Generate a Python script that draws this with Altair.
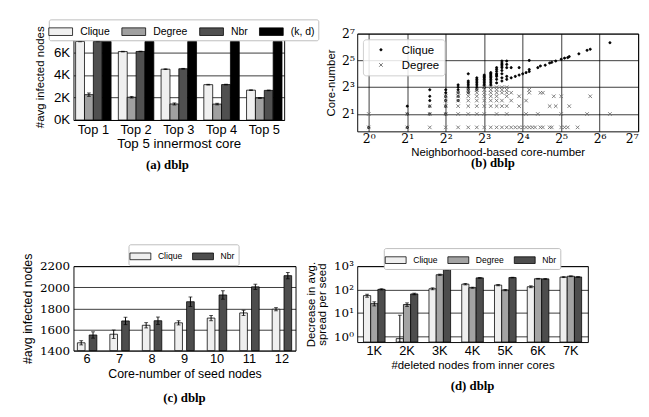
import altair as alt
import pandas as pd

SANS = "Liberation Sans"
SERIF = "DejaVu Serif"
CAPF = "Liberation Serif"
RECT = "M-1.4,-0.45H1.4V0.45H-1.4Z"
XMARK = "M-1,-1L1,1M-1,1L1,-1"

# ---------------- (a) ----------------
a_groups = ["Top 1", "Top 2", "Top 3", "Top 4", "Top 5"]
a_series = ["Clique", "Degree", "Nbr", "(k, d)"]
a_colors = ["#f0f0f0", "#a0a0a0", "#505050", "#000000"]
a_clique = [7000, 6100, 4530, 3150, 2660]
a_degree = [2260, 2030, 1430, 1420, 1960]
a_nbr = [7000, 6110, 4570, 3160, 2640]
a_kd = [7000, 7000, 7000, 7000, 7000]
a_err_clique = [25, 25, 30, 30, 30]
a_err_degree = [150, 70, 90, 70, 40]
a_err_nbr = [25, 25, 30, 30, 30]
a_err_kd = [0, 0, 0, 0, 0]

# ---------------- (b) ----------------
b_methods = ["Clique", "Degree"]
b_clique_x = [1, 2, 2, 2, 3, 3, 3, 3, 3, 4, 4, 4, 4, 4, 4, 5, 5, 5, 5, 5, 5,
              6, 6, 6, 6, 6, 6, 6, 7, 7, 7, 7, 7, 7, 7, 8, 8, 8, 8, 8, 8, 8, 8,
              9, 9, 9, 9, 9, 9, 9, 9, 9, 10, 10, 10, 10, 10, 10, 10, 10,
              11, 11, 11, 11, 11, 11, 11, 11, 11, 12, 12, 12, 12, 12, 13, 13,
              14, 15, 15, 16, 17, 18, 18, 18, 21, 22, 24, 26, 27, 29, 32, 34,
              36, 37, 44, 51, 54, 77]
b_clique_y = [1, 1, 2, 3, 2, 3, 4, 5, 7, 2, 3, 4, 5, 6, 7, 4, 5, 6, 7, 8, 9,
              6, 7, 8, 9, 10, 11, 16, 7, 8, 9, 10, 11, 12, 13, 8, 9, 10, 11, 12, 13, 14, 15,
              9, 10, 11, 12, 13, 14, 15, 16, 17, 10, 12, 14, 15, 16, 18, 20, 22,
              11, 13, 16, 19, 22, 24, 26, 28, 31, 12, 14, 22, 26, 31, 13, 22,
              14, 15, 22, 16, 17, 18, 20, 32, 22, 24, 25, 28, 29, 31, 34, 36,
              37, 39, 45, 54, 57, 80]
b_degree_x = [1, 2, 3, 4, 5, 6, 7, 8, 9, 10, 11, 12, 13, 14, 15, 16, 17, 18, 19, 20, 22, 23, 26, 27, 32, 34, 36, 43,
              1, 2, 3, 4, 5, 6, 7, 8, 10, 12, 17, 21, 32, 51, 77,
              3, 4, 5, 6, 7, 8, 9, 10, 11, 12, 15, 26, 29, 37,
              4, 5, 6, 7, 8, 9, 10, 11, 13, 17,
              4, 5, 6, 7, 8, 9, 10, 12, 15, 28, 32, 54,
              5, 6, 7, 8, 9, 10, 11, 12, 13, 18, 22, 23,
              6, 7, 8, 9, 10, 11, 12, 18,
              8, 9, 10, 11, 12]
b_degree_y = [1] * 28 + [2] * 15 + [3] * 14 + [4] * 10 + [5] * 12 + [6] * 12 + [7] * 8 + [8] * 5

# ---------------- (c) ----------------
c_cores = [6, 7, 8, 9, 10, 11, 12]
c_series = ["Clique", "Nbr"]
c_colors = ["#efefef", "#4d4d4d"]
c_clique = [1474, 1555, 1640, 1663, 1708, 1757, 1792]
c_nbr = [1548, 1681, 1683, 1863, 1927, 2004, 2110]
c_err_clique = [20, 40, 25, 20, 25, 25, 15]
c_err_nbr = [30, 35, 35, 45, 40, 25, 30]

# ---------------- (d) ----------------
d_groups = ["1K", "2K", "3K", "4K", "5K", "6K", "7K"]
d_series = ["Clique", "Degree", "Nbr"]
d_colors = ["#efefef", "#a3a3a3", "#4d4d4d"]
d_clique = [55, 0.8, 108, 170, 155, 132, 340]
d_degree = [25, 23, 430, 120, 95, 290, 370]
d_nbr = [102, 65, 720, 315, 325, 285, 345]
d_err_clique = [8, 7.2, 10, 12, 10, 12, 15]
d_err_degree = [5, 4, 25, 6, 6, 10, 15]
d_err_nbr = [6, 5, 30, 10, 10, 10, 10]
D_MIN = 0.57


def long_table(cats, series, values, errs, cat_name, floor=None):
    rows = []
    for s, vals, es in zip(series, values, errs):
        for c, v, e in zip(cats, vals, es):
            lo = v - e
            if floor is not None:
                lo = max(lo, floor)
            rows.append({cat_name: c, "series": s, "value": v, "lo": lo, "hi": v + e})
    return pd.DataFrame(rows)


def caption(text, offset, dx=0):
    return alt.TitleParams(text=text, orient="bottom", anchor="middle",
                           baseline="top", offset=offset, dx=dx, font=CAPF,
                           fontSize=13.5, fontWeight="bold", color="black")


def box_legend(x, y, cols, size, fsize, loff, cpad, pad):
    return alt.Legend(title=None, orient="none", legendX=x, legendY=y,
                      direction="horizontal", columns=cols, symbolType=RECT,
                      symbolSize=size, symbolStrokeColor="black", symbolStrokeWidth=0.8,
                      symbolOpacity=1, labelFont=SANS, labelFontSize=fsize,
                      labelColor="black", labelOffset=loff, columnPadding=cpad,
                      fillColor="white", strokeColor="#bbbbbb", padding=pad,
                      cornerRadius=2)


def bar_layers(df, cat, cats, series, colors, xscale, offpad, yscale, xaxis, yaxis,
               xtitle, ytitle, legend, y2=None):
    x = alt.X(f"{cat}:O" if isinstance(cats[0], int) else f"{cat}:N", sort=cats,
              title=xtitle, scale=xscale, axis=xaxis)
    xo = alt.XOffset("series:N", sort=series,
                     scale=alt.Scale(domain=series, paddingInner=offpad, paddingOuter=0))
    y = alt.Y("value:Q", scale=yscale, title=ytitle, axis=yaxis)
    base = alt.Chart(df)
    enc = dict(x=x, xOffset=xo, y=y,
               color=alt.Color("series:N", sort=series,
                               scale=alt.Scale(domain=series, range=colors), legend=legend))
    if y2 is not None:
        enc["y2"] = alt.datum(y2)
    bars = base.mark_bar(stroke="black", strokeWidth=0.8).encode(**enc)
    eb = base.transform_filter("datum.hi > datum.lo")
    rule = eb.mark_rule(color="black", strokeWidth=1).encode(
        x=x, xOffset=xo, y=alt.Y("lo:Q", scale=yscale), y2="hi:Q")
    cap_hi = eb.mark_tick(color="black", orient="horizontal", size=4, thickness=1).encode(
        x=x, xOffset=xo, y=alt.Y("hi:Q", scale=yscale))
    cap_lo = eb.mark_tick(color="black", orient="horizontal", size=4, thickness=1).encode(
        x=x, xOffset=xo, y=alt.Y("lo:Q", scale=yscale))
    return alt.layer(bars, rule, cap_hi, cap_lo)


# ---- panel a ----
df_a = long_table(a_groups, a_series, [a_clique, a_degree, a_nbr, a_kd],
                  [a_err_clique, a_err_degree, a_err_nbr, a_err_kd], "group")
panel_a = bar_layers(
    df_a, "group", a_groups, a_series, a_colors,
    alt.Scale(paddingInner=0.17, paddingOuter=0.05), 0,
    alt.Scale(domain=[0, 7700], nice=False),
    alt.Axis(labelAngle=0, labelFont=SANS, labelFontSize=13.5, titleFont=SANS,
             titleFontSize=14, labelPadding=3, titlePadding=1),
    alt.Axis(values=[0, 2000, 4000, 6000], tickCount=10,
             labelExpr="format(datum.value / 1000, 'd') + 'K'",
             grid=True, labelFont=SANS, labelFontSize=14, titleFont=SANS,
             titleFontSize=12, labelPadding=4, titlePadding=7),
    "Top 5 innermost core", "#avg infected nodes",
    box_legend(-26, -15, 4, 320, 11, 11, 10, 3),
).properties(width=222, height=91, title=caption("(a) dblp", 9, -12))

# ---- panel b ----
df_b = pd.DataFrame({
    "nbr": b_clique_x + b_degree_x,
    "core": b_clique_y + b_degree_y,
    "method": ["Clique"] * len(b_clique_x) + ["Degree"] * len(b_degree_x),
})
sup2 = "['\u2070','\u00b9','\u00b2','\u00b3','\u2074','\u2075','\u2076','\u2077'][round(log(datum.value)/log(2))]"
leg_b = alt.Legend(title=None, orient="none", legendX=6, legendY=6, direction="vertical",
                   symbolSize=22, symbolStrokeWidth=1, symbolOffset=8, labelFont=SANS,
                   labelFontSize=12, labelColor="black", labelOffset=16, rowPadding=4,
                   fillColor="rgba(255,255,255,0.85)", strokeColor="#cccccc",
                   padding=5, cornerRadius=3)
log2 = dict(type="log", base=2, domain=[2 ** -0.3, 128], nice=False)
panel_b = alt.Chart(df_b).mark_point(filled=False, opacity=1).encode(
    x=alt.X("nbr:Q", title="Neighborhood-based core-number", scale=alt.Scale(**log2),
            axis=alt.Axis(values=[1, 2, 4, 8, 16, 32, 64, 128], tickCount=10,
                          labelExpr="'2' + " + sup2,
                          grid=True, labelFont=SERIF, labelFontSize=13, titleFont=SANS,
                          titleFontSize=12, labelPadding=2, titlePadding=1)),
    y=alt.Y("core:Q", title="Core-number", scale=alt.Scale(**log2),
            axis=alt.Axis(values=[2, 8, 32, 128], tickCount=10, labelExpr="'2' + " + sup2,
                          grid=True, labelFont=SERIF, labelFontSize=13, titleFont=SANS,
                          titleFontSize=12, labelPadding=3, titlePadding=4)),
    color=alt.Color("method:N", scale=alt.Scale(domain=b_methods, range=["black", "#6e6e6e"]),
                    legend=leg_b),
    fill=alt.Fill("method:N", scale=alt.Scale(domain=b_methods, range=["black", "transparent"]),
                  legend=leg_b),
    shape=alt.Shape("method:N", scale=alt.Scale(domain=b_methods, range=["circle", XMARK]),
                    legend=leg_b),
    size=alt.Size("method:N", scale=alt.Scale(domain=b_methods, range=[5, 14]), legend=None),
    strokeWidth=alt.value(0.9),
).properties(width=296, height=103, title=caption("(b) dblp", 0, -5))

# ---- panel c ----
df_c = long_table(c_cores, c_series, [c_clique, c_nbr], [c_err_clique, c_err_nbr], "core")
panel_c = bar_layers(
    df_c, "core", c_cores, c_series, c_colors,
    alt.Scale(paddingInner=0.4, paddingOuter=0.12), 0.35,
    alt.Scale(domain=[1400, 2200], nice=False, zero=False),
    alt.Axis(labelAngle=0, labelFont=SANS, labelFontSize=13.5, titleFont=SANS,
             titleFontSize=13, labelPadding=2, titlePadding=3),
    alt.Axis(values=[1400, 1600, 1800, 2000, 2200], tickCount=10, format="d", grid=True,
             labelFont=SERIF, labelFontSize=12.5, titleFont=SANS, titleFontSize=13,
             labelPadding=4, titlePadding=5),
    "Core-number of seed nodes", "#avg infected nodes",
    box_legend(58, -23, 2, 247, 9, 10, 8, 4), y2=1400,
).properties(width=234, height=89, title=caption("(c) dblp", 12))

# ---- panel d ----
df_d = long_table(d_groups, d_series, [d_clique, d_degree, d_nbr],
                  [d_err_clique, d_err_degree, d_err_nbr], "deleted", floor=D_MIN)
sup10 = "['\u2070','\u00b9','\u00b2','\u00b3'][round(log(datum.value)/LN10)]"
panel_d = bar_layers(
    df_d, "deleted", d_groups, d_series, d_colors,
    alt.Scale(paddingInner=0.34, paddingOuter=0.19), 0,
    alt.Scale(type="log", domain=[D_MIN, 1000], nice=False),
    alt.Axis(labelAngle=0, labelFont=SANS, labelFontSize=13.5, titleFont=SANS,
             titleFontSize=12, labelPadding=2, titlePadding=3),
    alt.Axis(values=[1, 10, 100, 1000], tickCount=10, labelExpr="'10' + " + sup10, grid=True,
             labelFont=SERIF, labelFontSize=12.5, titleFont=SANS, titleFontSize=12,
             titleLineHeight=12, labelPadding=4, titlePadding=5),
    "#deleted nodes from inner cores", ["Decrease in avg.", "spread per seed"],
    box_legend(28, -19, 3, 247, 9, 10, 8, 4), y2=D_MIN,
).properties(width=243, height=80, title=caption("(d) dblp", 10))


def spacer(w):
    return alt.Chart(pd.DataFrame({"s": [0]})).mark_point(opacity=0, size=1).encode(
        x=alt.value(0), y=alt.value(0)
    ).properties(width=w, height=1, view=alt.ViewBackground(stroke="transparent"))


chart = alt.concat(
    spacer(47), panel_a, spacer(59), panel_b,
    spacer(68), panel_c, spacer(65), panel_d,
    columns=4, spacing={"row": 142, "column": 0}, align="none", bounds="flush",
).resolve_scale(
    color="independent", fill="independent", shape="independent", size="independent",
    xOffset="independent", x="independent", y="independent",
).resolve_legend(
    color="independent", fill="independent", shape="independent", size="independent",
).properties(
    padding={"left": 0, "top": 0, "right": 2, "bottom": 2}
).configure_view(
    stroke="black", strokeWidth=1
).configure_axis(
    domain=False, ticks=False, labelColor="black", titleColor="black",
    gridColor="black", gridWidth=0.8, titleFontWeight="normal",
)

chart.save("out.html", embed_options={"renderer": "svg", "actions": False})
